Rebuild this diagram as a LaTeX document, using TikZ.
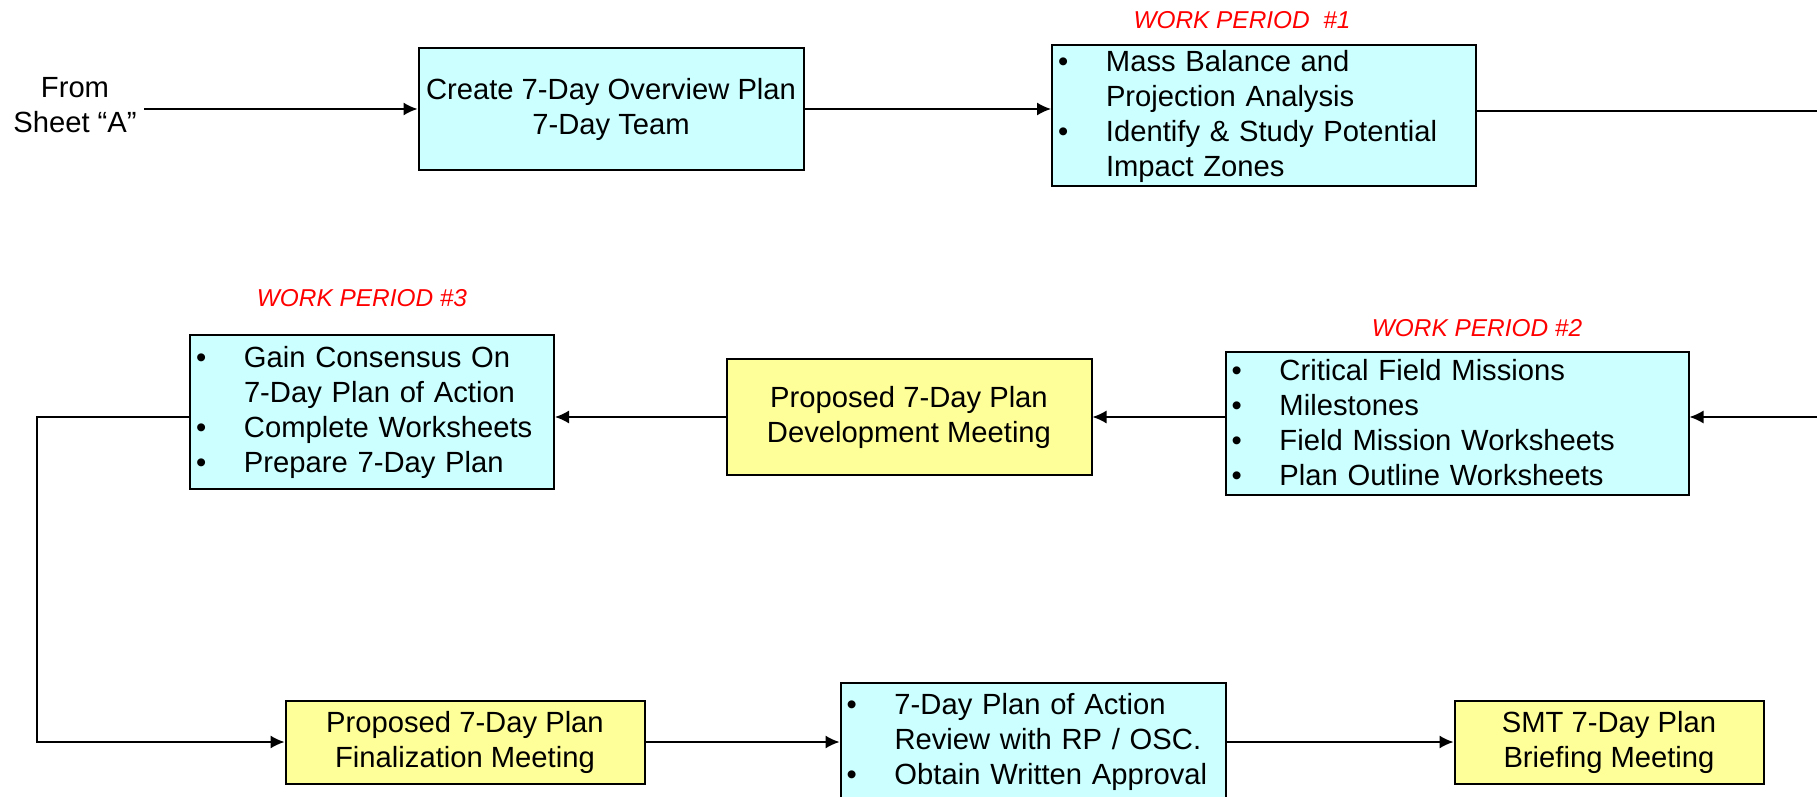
\documentclass[tikz,border=0pt]{standalone}
\usepackage{fontspec}
\setmainfont{Liberation Sans}
\usetikzlibrary{arrows.meta,positioning}
\definecolor{boxcyan}{HTML}{CCFFFF}
\definecolor{boxyellow}{HTML}{FFFF99}
\newcommand{\boxfont}{\fontsize{14.6}{17.5}\selectfont}
\newcommand{\bul}{\makebox[24pt][l]{\textbullet}}
\newcommand{\ind}{\hspace*{24pt}}
\tikzset{
planbox/.style 2 args={
  draw=black,
  line width=1pt,
  font=\boxfont,
  align=center,
  inner sep=0pt,
  minimum width=#1,
  minimum height=#2
  },
listbox/.style 2 args={
  draw=black,
  line width=1pt,
  fill=boxcyan,
  font=\boxfont,
  align=left,
  inner xsep=3pt,
  inner ysep=0pt,
  text width=#1,
  minimum height=#2
  },
wplabel/.style={
  text=red,
  font=\fontsize{12.2}{14}\selectfont\itshape
  }
}

\begin{document}
\begin{tikzpicture}[x=0.5pt,y=-0.5pt,line width=0.75pt,>={Latex[length=7pt,width=6.5pt]}]

\useasboundingbox (0,0) rectangle (1817,797);

\node[font=\boxfont,align=center] (from) at (75,105) {From\\Sheet “A”};

\node[planbox={192.5pt}{61pt},fill=boxcyan] (create) at (611,109)
{Create 7-Day Overview Plan\\7-Day Team};

\node[listbox={206pt}{70.5pt}] (massbal) at (1264,116)
{\bul Mass Balance and\\ \ind Projection Analysis\\ \bul Identify \& Study Potential\\ \ind Impact Zones};

\node[wplabel] (wp1) at (1242,20) {WORK PERIOD\ \ \#1};

\node[listbox={176pt}{77pt}] (consensus) at (372,412)
{\bul Gain Consensus On\\ \ind 7-Day Plan of Action\\ \bul Complete Worksheets\\ \bul Prepare 7-Day Plan};

\node[wplabel] (wp3) at (362,298) {WORK PERIOD \#3};

\node[planbox={182.5pt}{58pt},fill=boxyellow] (devmeet) at (909,417)
{Proposed 7-Day Plan\\Development Meeting};

\node[listbox={225.5pt}{71.5pt}] (missions) at (1457,423)
{\bul Critical Field Missions\\ \bul Milestones\\ \bul Field Mission Worksheets\\ \bul Plan Outline Worksheets};

\node[wplabel] (wp2) at (1477,328) {WORK PERIOD \#2};

\node[planbox={179.5pt}{41.5pt},fill=boxyellow] (finalmeet) at (465,742)
{Proposed 7-Day Plan\\Finalization Meeting};

\node[listbox={186.5pt}{59pt}] (review) at (1033,742)
{\bul 7-Day Plan of Action\\ \ind Review with RP / OSC.\\ \bul Obtain Written Approval};

\node[planbox={154.5pt}{41.5pt},fill=boxyellow] (briefing) at (1609,742)
{SMT 7-Day Plan\\Briefing Meeting};

\coordinate (outA) at (1817,111);
\coordinate (inB) at (1817,417);
\coordinate (bend) at (37,742);

\draw[->] (from.east |- create.west) -- (create.west);
\draw[->] (create.east) -- (create.east -| massbal.west);
\draw (massbal.east |- outA) -- (outA);
\draw[->] (inB) -- (inB -| missions.east);
\draw[->] (missions.west |- devmeet.east) -- (devmeet.east);
\draw[->] (devmeet.west) -- (devmeet.west -| consensus.east);
\draw[->] (consensus.west |- devmeet.west) -| (bend) -- (finalmeet.west);
\draw[->] (finalmeet) -- (review);
\draw[->] (review) -- (briefing);

\end{tikzpicture}
\end{document}
